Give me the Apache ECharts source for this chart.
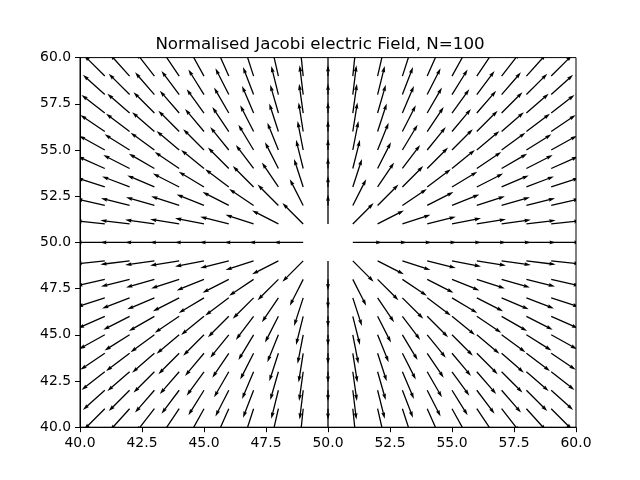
<!doctype html>
<html lang="en">
<head>
    <meta charset="UTF-8">
    <title>Normalised Jacobi electric Field</title>
    <script src="https://cdn.jsdelivr.net/npm/echarts/dist/echarts.min.js"></script>
    <style>
        html, body { margin: 0; padding: 0; background: #fff; }
        #field_echart { width: 640px; height: 480px; }
    </style>
</head>
<body>
<div id="field_echart"></div>

<script type="text/javascript">
/* 1. data */
/* grid positions (columns left->right, rows top->bottom) */
let xValues = [40, 41, 42, 43, 44, 45, 46, 47, 48, 49, 50, 51, 52, 53, 54, 55, 56, 57, 58, 59, 60];
let yValues = [60, 59, 58, 57, 56, 55, 54, 53, 52, 51, 50, 49, 48, 47, 46, 45, 44, 43, 42, 41, 40];

/* arrow direction in degrees (counter-clockwise from +x), one row per yValues entry, null = no field */
let angles60 = [135, 132, 129, 125, 121, 117, 112, 107, 101, 96, 90, 84, 79, 73, 68, 63, 59, 55, 51, 48, 45];
let angles59 = [138, 135, 132, 128, 124, 119, 114, 108, 103, 96, 90, 84, 77, 72, 66, 61, 56, 52, 48, 45, 42];
let angles58 = [141, 138, 135, 131, 127, 122, 117, 111, 104, 97, 90, 83, 76, 69, 63, 58, 53, 49, 45, 42, 39];
let angles57 = [145, 142, 139, 135, 131, 126, 120, 113, 106, 98, 90, 82, 74, 67, 60, 54, 49, 45, 41, 38, 35];
let angles56 = [149, 146, 143, 139, 135, 130, 124, 117, 108, 99, 90, 81, 72, 63, 56, 50, 45, 41, 37, 34, 31];
let angles55 = [153, 151, 148, 144, 140, 135, 129, 121, 112, 101, 90, 79, 68, 59, 51, 45, 40, 36, 32, 29, 27];
let angles54 = [158, 156, 153, 150, 146, 141, 135, 127, 117, 104, 90, 76, 63, 53, 45, 39, 34, 30, 27, 24, 22];
let angles53 = [163, 162, 159, 157, 153, 149, 143, 135, 124, 108, 90, 72, 56, 45, 37, 31, 27, 23, 21, 18, 17];
let angles52 = [169, 167, 166, 164, 162, 158, 153, 146, 135, 117, 90, 63, 45, 34, 27, 22, 18, 16, 14, 13, 11];
let angles51 = [174, 174, 173, 172, 171, 169, 166, 162, 153, 135, 90, 45, 27, 18, 14, 11, 9, 8, 7, 6, 6];
let angles50 = [180, 180, 180, 180, 180, 180, 180, 180, 180, 180, null, 0, 0, 0, 0, 0, 0, 0, 0, 0, 0];
let angles49 = [-174, -174, -173, -172, -171, -169, -166, -162, -153, -135, -90, -45, -27, -18, -14, -11, -9, -8, -7, -6, -6];
let angles48 = [-169, -167, -166, -164, -162, -158, -153, -146, -135, -117, -90, -63, -45, -34, -27, -22, -18, -16, -14, -13, -11];
let angles47 = [-163, -162, -159, -157, -153, -149, -143, -135, -124, -108, -90, -72, -56, -45, -37, -31, -27, -23, -21, -18, -17];
let angles46 = [-158, -156, -153, -150, -146, -141, -135, -127, -117, -104, -90, -76, -63, -53, -45, -39, -34, -30, -27, -24, -22];
let angles45 = [-153, -151, -148, -144, -140, -135, -129, -121, -112, -101, -90, -79, -68, -59, -51, -45, -40, -36, -32, -29, -27];
let angles44 = [-149, -146, -143, -139, -135, -130, -124, -117, -108, -99, -90, -81, -72, -63, -56, -50, -45, -41, -37, -34, -31];
let angles43 = [-145, -142, -139, -135, -131, -126, -120, -113, -106, -98, -90, -82, -74, -67, -60, -54, -49, -45, -41, -38, -35];
let angles42 = [-141, -138, -135, -131, -127, -122, -117, -111, -104, -97, -90, -83, -76, -69, -63, -58, -53, -49, -45, -42, -39];
let angles41 = [-138, -135, -132, -128, -124, -119, -114, -108, -103, -96, -90, -84, -77, -72, -66, -61, -56, -52, -48, -45, -42];
let angles40 = [-135, -132, -129, -125, -121, -117, -112, -107, -101, -96, -90, -84, -79, -73, -68, -63, -59, -55, -51, -48, -45];

let angleRows = [angles60, angles59, angles58, angles57, angles56, angles55, angles54, angles53, angles52, angles51,
    angles50, angles49, angles48, angles47, angles46, angles45, angles44, angles43, angles42, angles41, angles40];

let tickValues = [40.0, 42.5, 45.0, 47.5, 50.0, 52.5, 55.0, 57.5, 60.0];

/* [x, y, angle] list for the custom series */
let arrowData = [];
yValues.forEach(function (y, r) {
    xValues.forEach(function (x, c) {
        let a = angleRows[r][c];
        if (a !== null) arrowData.push([x, y, a]);
    });
});

/* 2. arrow shape (pixels, like matplotlib quiver: head 3w wide, 5w long) */
let arrowLen = 29.5;
let shaftW = 1.3;

function renderArrow(params, api) {
    let p = api.coord([api.value(0), api.value(1)]);
    let a = api.value(2) * Math.PI / 180;
    let ux = Math.cos(a), uy = -Math.sin(a);
    let nx = -uy, ny = ux;
    let hw = shaftW / 2, hh = shaftW * 1.5, hl = shaftW * 5, hal = shaftW * 4.5;
    let L = arrowLen;
    let local = [[0, -hw], [L - hal, -hw], [L - hl, -hh], [L, 0], [L - hl, hh], [L - hal, hw], [0, hw]];
    let pts = local.map(function (q) {
        return [p[0] + q[0] * ux + q[1] * nx, p[1] + q[0] * uy + q[1] * ny];
    });
    let cs = params.coordSys;
    return {
        type: 'group',
        clipPath: { type: 'rect', shape: { x: cs.x, y: cs.y, width: cs.width, height: cs.height } },
        children: [{
            type: 'polygon',
            shape: { points: pts },
            style: { fill: '#000', stroke: null }
        }]
    };
}

/* 3. chart */
let field_echart = echarts.init(document.getElementById('field_echart'));

let axisCommon = {
    type: 'value',
    min: tickValues[0],
    max: tickValues[tickValues.length - 1],
    interval: 2.5,
    axisLine: { show: true, onZero: false, lineStyle: { color: '#000', width: 1 } },
    axisTick: { show: true, inside: false, length: 5, lineStyle: { color: '#000', width: 1 } },
    axisLabel: {
        color: '#000',
        fontFamily: 'DejaVu Sans',
        fontSize: 13.9,
        margin: 9,
        formatter: function (v) { return v.toFixed(1); }
    },
    splitLine: { show: false }
};

let option = {
    animation: false,
    backgroundColor: '#fff',
    title: {
        text: 'Normalised Jacobi electric Field, N=100',
        left: 'center',
        top: 31,
        textStyle: { fontFamily: 'DejaVu Sans', fontSize: 16.7, fontWeight: 'normal', color: '#000' }
    },
    grid: {
        left: 80, right: 64, top: 57.6, bottom: 52.8,
        show: true, borderColor: '#000', borderWidth: 1, backgroundColor: 'transparent'
    },
    xAxis: Object.assign({}, axisCommon),
    yAxis: Object.assign({}, axisCommon),
    series: [{
        type: 'custom',
        renderItem: renderArrow,
        data: arrowData,
        encode: { x: 0, y: 1 },
        silent: true
    }]
};
field_echart.setOption(option);

window.addEventListener('resize', field_echart.resize);
</script>
</body>
</html>
